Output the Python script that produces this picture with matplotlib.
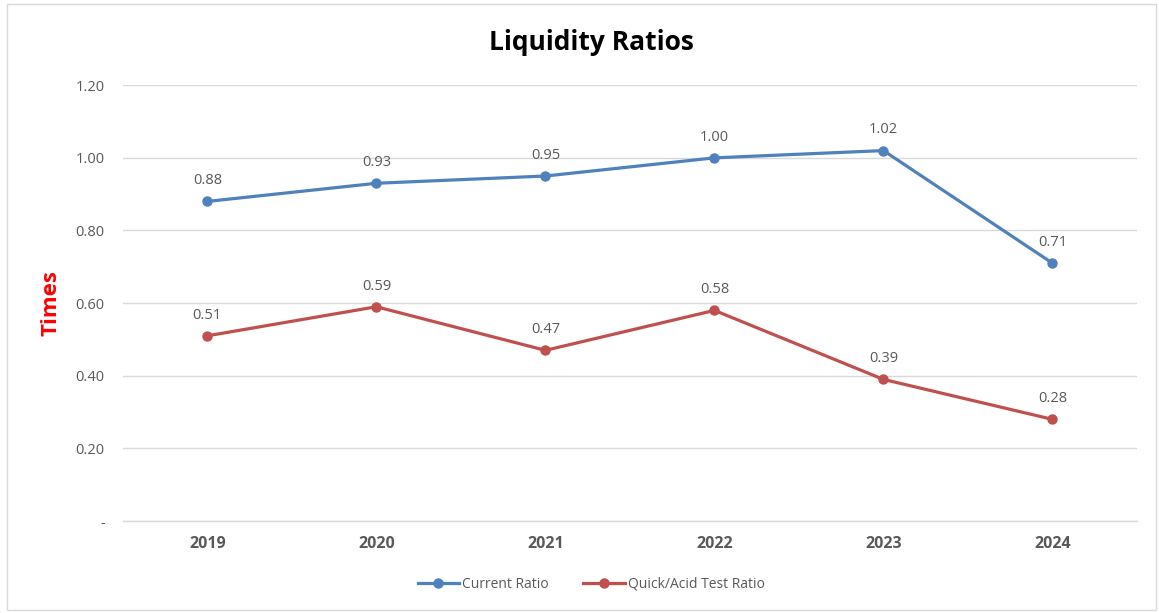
import matplotlib.pyplot as plt
import matplotlib.patches as mpatches
from matplotlib.ticker import FuncFormatter

plt.rcParams['font.family'] = ['Open Sans', 'DejaVu Sans']

# chart data
years = ['2019', '2020', '2021', '2022', '2023', '2024']
current_ratio = [0.88, 0.93, 0.95, 1.00, 1.02, 0.71]
quick_ratio = [0.51, 0.59, 0.47, 0.58, 0.39, 0.28]

blue = '#4F81BD'
red = '#C0504D'
grey = '#595959'

fig = plt.figure(figsize=(11.59, 6.13), dpi=100)
ax = fig.add_axes([0.106, 0.150, 0.875, 0.711])

x = list(range(len(years)))
ax.plot(x, current_ratio, color=blue, lw=2.3, marker='o', ms=6.5, label='Current Ratio')
ax.plot(x, quick_ratio, color=red, lw=2.3, marker='o', ms=6.5, label='Quick/Acid Test Ratio')

for xi, v in zip(x, current_ratio):
    ax.annotate('%.2f' % v, (xi, v), xytext=(0, 9.5), textcoords='offset points',
                ha='center', va='bottom', fontsize=10.5, color=grey)
for xi, v in zip(x, quick_ratio):
    ax.annotate('%.2f' % v, (xi, v), xytext=(0, 9.5), textcoords='offset points',
                ha='center', va='bottom', fontsize=10.5, color=grey)

ax.set_xlim(-0.5, len(years) - 0.5)
ax.set_ylim(0, 1.2)
ax.set_yticks([0, 0.2, 0.4, 0.6, 0.8, 1.0, 1.2])
ax.yaxis.set_major_formatter(FuncFormatter(lambda v, p: '-' if v == 0 else '%.2f' % v))
ax.set_xticks(x)
ax.set_xticklabels(years, fontweight='bold', fontsize=11.5)
ax.tick_params(axis='both', length=0, labelcolor=grey)
ax.tick_params(axis='y', pad=13, labelsize=10.5)
ax.tick_params(axis='x', pad=11)
ax.grid(axis='y', color='#D9D9D9', lw=1)
ax.set_axisbelow(True)
for s in ax.spines.values():
    s.set_visible(False)
ax.axhline(0, color='#D9D9D9', lw=1, zorder=0.5, clip_on=False)

ax.set_ylabel('Times', color='#FF0000', fontsize=16, fontweight='bold', labelpad=10)

fig.text(0.51, 0.930, 'Liquidity Ratios', ha='center', va='center',
         fontsize=19, fontweight='bold', color='black')

fig.legend(loc='center', bbox_to_anchor=(0.51, 0.047), ncol=2, frameon=False,
           fontsize=10, labelcolor=grey, handlelength=3, columnspacing=2.5,
           handletextpad=0.2)

fig.patches.append(mpatches.Rectangle((0.006, 0.005), 0.991, 0.988, transform=fig.transFigure,
                                      fill=False, edgecolor='#D9D9D9', lw=1))

fig.savefig('out.png', dpi=100)
